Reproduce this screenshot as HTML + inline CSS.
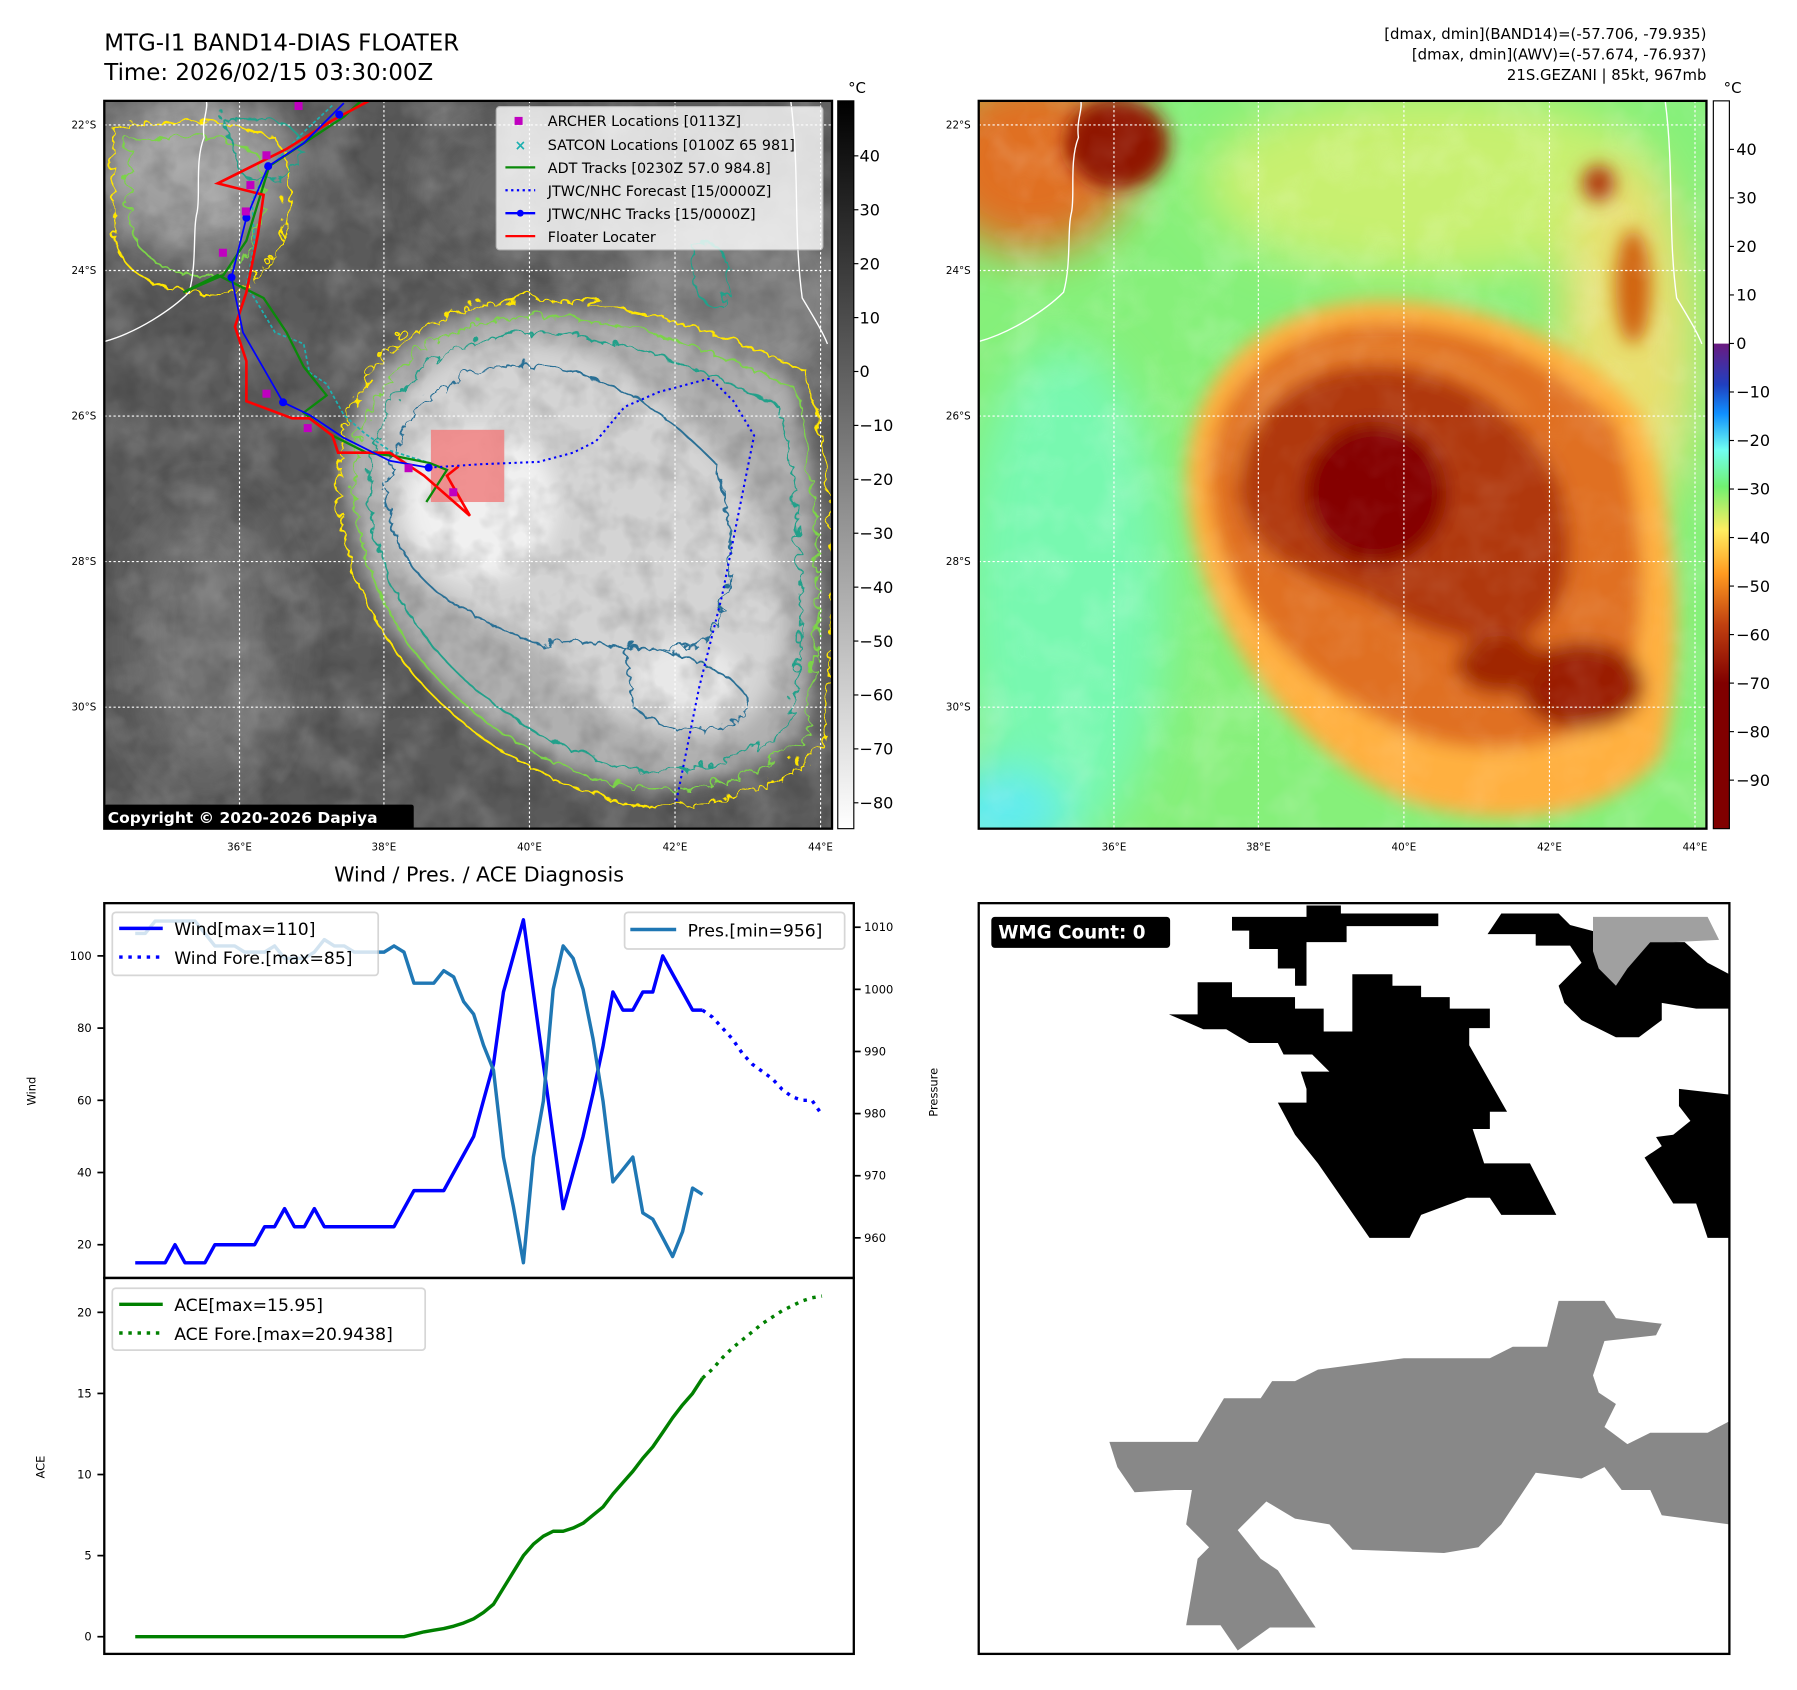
<!DOCTYPE html>
<html><head><meta charset="utf-8">
<style>
html,body{margin:0;padding:0;background:#fff;}
svg{display:block;font-family:"DejaVu Sans","Liberation Sans",sans-serif;}
</style></head>
<body>
<svg id="root" width="1797" height="1690" viewBox="0 0 1568 1474.5" preserveAspectRatio="none" xmlns="http://www.w3.org/2000/svg">
<defs>
  <clipPath id="c1"><rect x="91" y="88" width="635" height="635"/></clipPath>
  <clipPath id="c2"><rect x="854" y="88" width="635" height="635"/></clipPath>
  <filter id="blur8"><feGaussianBlur stdDeviation="8"/></filter>
  <filter id="blur20"><feGaussianBlur stdDeviation="20"/></filter>
  <filter id="tex" x="0" y="0" width="100%" height="100%">
    <feTurbulence type="fractalNoise" baseFrequency="0.025" numOctaves="3" seed="4"/>
    <feColorMatrix type="matrix" values="0 0 0 0 1  0 0 0 0 1  0 0 0 0 1  0 0 0 1.1 -0.45"/>
  </filter>
  <filter id="texd" x="0" y="0" width="100%" height="100%">
    <feTurbulence type="fractalNoise" baseFrequency="0.04" numOctaves="3" seed="9"/>
    <feColorMatrix type="matrix" values="0 0 0 0 0  0 0 0 0 0  0 0 0 0 0  0 0 0 1.2 -0.5"/>
  </filter>
  <filter id="wig"><feTurbulence type="turbulence" baseFrequency="0.06" numOctaves="2" seed="7" result="n"/><feDisplacementMap in="SourceGraphic" in2="n" scale="14"/></filter>
  <linearGradient id="cb1" x1="0" y1="0" x2="0" y2="1"><stop offset="0" stop-color="#000"/><stop offset="1" stop-color="#fff"/></linearGradient>
  <linearGradient id="cb2" x1="0" y1="0" x2="0" y2="1">
    <stop offset="0" stop-color="#fff"/><stop offset="0.333" stop-color="#fff"/>
    <stop offset="0.334" stop-color="#6a1a80"/><stop offset="0.39" stop-color="#2040c0"/>
    <stop offset="0.43" stop-color="#1090ff"/><stop offset="0.48" stop-color="#70fff0"/>
    <stop offset="0.53" stop-color="#70f070"/><stop offset="0.59" stop-color="#ffee60"/>
    <stop offset="0.65" stop-color="#ff9a20"/><stop offset="0.72" stop-color="#c04010"/>
    <stop offset="0.8" stop-color="#800000"/><stop offset="1" stop-color="#800000"/>
  </linearGradient>
</defs>

<!-- ================= MAP 1 ================= -->
<text x="91" y="44" font-size="20">MTG-I1 BAND14-DIAS FLOATER</text>
<text x="91" y="70" font-size="20">Time: 2026/02/15 03:30:00Z</text>
<g clip-path="url(#c1)">
  <rect x="91" y="88" width="635" height="635" fill="#5a5a5a"/>
  <g filter="url(#blur20)">
    <ellipse cx="170" cy="150" rx="90" ry="70" fill="#a0a0a0"/>
    <ellipse cx="640" cy="260" rx="110" ry="90" fill="#808080"/>
    <ellipse cx="180" cy="560" rx="60" ry="120" fill="#747474"/>
    <ellipse cx="470" cy="170" rx="90" ry="60" fill="#6a6a6a"/>
  </g>
  <rect x="91" y="88" width="635" height="635" filter="url(#tex)" opacity="0.35"/>
  <g filter="url(#blur8)">
    <path d="M300,420 C300,330 360,270 450,270 C540,265 620,300 690,330 C720,420 720,560 700,640 C640,690 560,700 500,670 C420,640 310,560 300,420Z" fill="#b0b0b0"/>
    <path d="M335,430 C330,350 380,300 450,300 C540,300 600,360 650,430 C700,520 690,620 630,640 C560,650 500,610 470,560 C430,540 340,520 335,430Z" fill="#d4d4d4"/>
    <ellipse cx="420" cy="440" rx="65" ry="65" fill="#f0f0f0"/>
    <ellipse cx="600" cy="590" rx="45" ry="30" fill="#e8e8e8"/>
  </g>
  <rect x="91" y="88" width="635" height="635" filter="url(#texd)" opacity="0.25"/>
  <g fill="none" stroke-width="1.6" filter="url(#wig)">
    <path d="M292,420 C290,320 360,262 455,258 C545,255 630,290 700,320 C730,420 732,560 712,650 C650,705 560,712 495,682 C410,650 296,560 292,420Z" stroke="#ffe600"/>
    <path d="M305,420 C305,335 365,275 455,272 C545,270 620,305 690,335 C715,430 715,560 700,640 C640,690 560,698 500,670 C420,640 310,555 305,420Z" stroke="#7cd34a"/>
    <path d="M318,425 C318,345 372,290 455,288 C540,286 610,320 675,350 C700,440 700,560 685,630 C630,672 560,680 505,655 C430,625 325,545 318,425Z" stroke="#24a08a"/>
    <path d="M335,430 C335,360 385,315 455,315 C530,318 580,360 620,400 C640,470 640,540 600,560 C540,570 500,545 470,560 C430,540 340,520 335,430Z" stroke="#2a6f95"/>
    <path d="M540,560 C580,560 640,580 650,610 C640,640 580,640 550,615Z" stroke="#2a6f95"/>
    <path d="M95,110 C150,95 200,100 240,120 C260,160 250,230 200,250 C150,260 100,240 95,200Z" stroke="#ffe600"/>
    <path d="M110,120 C150,110 190,115 220,130 C235,170 225,215 190,235 C150,240 115,225 110,190Z" stroke="#7cd34a"/>
    <path d="M190,100 C220,95 250,100 260,120 C255,150 235,160 210,150Z" stroke="#24a08a"/>
    <path d="M600,210 C620,200 640,220 630,260 C620,270 605,260 600,240Z" stroke="#24a08a"/>
  </g>
  <g fill="none" stroke="#fff" stroke-width="1.2">
    <path d="M91,298 C120,290 150,270 165,255 C172,230 168,200 172,185 C175,170 170,140 178,120 C176,105 182,95 180,88"/>
    <path d="M690,88 C698,150 692,200 700,260 C712,280 718,290 722,300"/>
  </g>
  <g stroke="#fff" stroke-width="1" stroke-dasharray="2,2" fill="none">
    <line x1="91" y1="109" x2="726" y2="109"/><line x1="91" y1="236" x2="726" y2="236"/><line x1="91" y1="363" x2="726" y2="363"/><line x1="91" y1="490" x2="726" y2="490"/><line x1="91" y1="617" x2="726" y2="617"/>
    <line x1="209" y1="88" x2="209" y2="723"/><line x1="335" y1="88" x2="335" y2="723"/><line x1="462" y1="88" x2="462" y2="723"/><line x1="589" y1="88" x2="589" y2="723"/><line x1="716" y1="88" x2="716" y2="723"/>
  </g>
  <rect x="376" y="375" width="64" height="63" fill="#f08080" opacity="0.85"/>
  <polyline fill="none" stroke="#1cb0b0" stroke-width="1.5" stroke-dasharray="3,2" points="290,92 262,118 232,150 220,175 222,212 215,250 222,260 240,290 265,300 270,325 285,335 300,362 318,378 340,393 375,404"/>
  <polyline fill="none" stroke="#0a8a0a" stroke-width="2" points="315,88 300,102 265,125 235,145 215,210 195,240 160,255 190,240 210,250 230,260 250,290 265,320 285,345 265,360 290,380 320,395 345,398 375,404 390,410 372,438"/>
  <polyline fill="none" stroke="#f00" stroke-width="2.3" points="322,88 290,105 250,130 190,160 230,170 225,205 215,255 205,285 215,315 215,350 255,365 270,365 290,380 295,395 340,395 370,415 410,450 390,415 400,407"/>
  <g>
    <polyline fill="none" stroke="#00f" stroke-width="1.5" points="300,90 265,125 234,145 215,190 202,242 212,290 247,351 270,362 300,382 340,402 374,408"/>
    <g fill="#00f"><circle cx="296" cy="100" r="3.5"/><circle cx="234" cy="145" r="3.5"/><circle cx="215" cy="190" r="3.5"/><circle cx="202" cy="242" r="3.5"/><circle cx="247" cy="351" r="3.5"/><circle cx="374" cy="408" r="3.5"/></g>
  </g>
  <polyline fill="none" stroke="#00f" stroke-width="1.8" stroke-dasharray="2,3" points="374,408 420,405 470,403 500,395 520,385 545,355 575,342 620,330 640,350 658,380 650,420 630,520 610,600 590,700"/>
  <g fill="#c000c0">
    <rect x="257" y="89" width="7" height="7"/><rect x="229" y="132" width="7" height="7"/><rect x="215" y="158" width="7" height="7"/><rect x="211" y="181" width="7" height="7"/><rect x="191" y="217" width="7" height="7"/><rect x="229" y="340" width="7" height="7"/><rect x="265" y="370" width="7" height="7"/><rect x="353" y="405" width="7" height="7"/><rect x="392" y="426" width="7" height="7"/>
  </g>
  <g>
    <rect x="433" y="93" width="285" height="125" fill="#fff" opacity="0.8" stroke="#ccc" rx="3"/>
    <rect x="449" y="102" width="7" height="7" fill="#c000c0"/>
    <text x="449" y="131" font-size="12" fill="#1cb0b0" font-weight="bold">×</text>
    <line x1="441" y1="146" x2="467" y2="146" stroke="#0a8a0a" stroke-width="2"/>
    <line x1="441" y1="166" x2="467" y2="166" stroke="#00f" stroke-width="2" stroke-dasharray="2,3"/>
    <line x1="441" y1="186" x2="467" y2="186" stroke="#00f" stroke-width="2"/><circle cx="454" cy="186" r="3" fill="#00f"/>
    <line x1="441" y1="206" x2="467" y2="206" stroke="#f00" stroke-width="2"/>
    <g font-size="12.5" fill="#000">
      <text x="478" y="110">ARCHER Locations [0113Z]</text>
      <text x="478" y="131">SATCON Locations [0100Z 65 981]</text>
      <text x="478" y="151">ADT Tracks [0230Z 57.0 984.8]</text>
      <text x="478" y="171">JTWC/NHC Forecast [15/0000Z]</text>
      <text x="478" y="191">JTWC/NHC Tracks [15/0000Z]</text>
      <text x="478" y="211">Floater Locater</text>
    </g>
  </g>
  <rect x="91" y="702" width="270" height="22" fill="#000" rx="2"/>
  <text x="94" y="718" font-size="13.5" font-weight="bold" fill="#fff">Copyright © 2020-2026 Dapiya</text>
</g>
<rect x="91" y="88" width="635" height="635" fill="none" stroke="#000" stroke-width="2"/>
<g font-size="9" text-anchor="end">
  <text x="84" y="112">22°S</text><text x="84" y="239">24°S</text><text x="84" y="366">26°S</text><text x="84" y="493">28°S</text><text x="84" y="620">30°S</text>
</g>
<g font-size="9" text-anchor="middle">
  <text x="209" y="742">36°E</text><text x="335" y="742">38°E</text><text x="462" y="742">40°E</text><text x="589" y="742">42°E</text><text x="716" y="742">44°E</text>
</g>
<rect x="731" y="88" width="14" height="635" fill="url(#cb1)" stroke="#000" stroke-width="1"/>
<text x="740" y="81" font-size="13">°C</text>
<g id="cb1ticks" font-size="14"></g>

<!-- ================= MAP 2 ================= -->
<g font-size="13" text-anchor="end">
  <text x="1489" y="34">[dmax, dmin](BAND14)=(-57.706, -79.935)</text>
  <text x="1489" y="52">[dmax, dmin](AWV)=(-57.674, -76.937)</text>
  <text x="1489" y="70">21S.GEZANI | 85kt, 967mb</text>
</g>
<g clip-path="url(#c2)">
  <rect x="854" y="88" width="635" height="635" fill="#86f07a"/>
  <g filter="url(#blur20)">
    <ellipse cx="930" cy="520" rx="90" ry="220" fill="#78f8b0"/>
    <ellipse cx="870" cy="710" rx="60" ry="40" fill="#60ecf0"/>
    <ellipse cx="1250" cy="160" rx="200" ry="80" fill="#c8f070"/>
    <ellipse cx="1420" cy="300" rx="60" ry="160" fill="#e8e070"/>
    <ellipse cx="900" cy="140" rx="90" ry="80" fill="#e07020"/>
  </g>
  <rect x="854" y="88" width="635" height="635" filter="url(#tex)" opacity="0.15"/>
  <g filter="url(#blur8)">
    <ellipse cx="975" cy="125" rx="45" ry="40" fill="#901800"/>
    <path d="M1035,420 C1035,320 1110,265 1200,262 C1300,260 1380,300 1430,360 C1470,460 1470,580 1450,660 C1400,720 1300,723 1230,700 C1150,670 1040,560 1035,420Z" fill="#ffb040"/>
    <path d="M1055,420 C1055,335 1120,285 1200,282 C1290,280 1360,320 1410,370 C1440,460 1440,560 1410,620 C1360,660 1280,660 1230,640 C1160,610 1060,540 1055,420Z" fill="#e07020"/>
    <path d="M1080,420 C1085,360 1130,320 1200,320 C1270,320 1330,360 1360,420 C1380,490 1370,540 1320,560 C1270,565 1220,540 1190,520 C1130,500 1080,480 1080,420Z" fill="#b03808"/>
    <ellipse cx="1200" cy="430" rx="62" ry="62" fill="#850000"/>
    <ellipse cx="1380" cy="598" rx="55" ry="38" fill="#9a1c00"/>
    <ellipse cx="1310" cy="580" rx="40" ry="25" fill="#a02800"/>
    <ellipse cx="1425" cy="250" rx="15" ry="50" fill="#d06010"/>
    <ellipse cx="1395" cy="160" rx="14" ry="16" fill="#b03808"/>
  </g>
  <rect x="854" y="88" width="635" height="635" filter="url(#tex)" opacity="0.18"/>
  <path d="M1080,420 C1085,340 1140,305 1200,305 C1260,305 1300,330 1330,360" fill="none" stroke="#ffd070" stroke-width="4" opacity="0.6" filter="url(#blur8)"/>
  <g fill="none" stroke="#fff" stroke-width="1.2">
    <path d="M854,298 C883,290 913,270 928,255 C935,230 931,200 935,185 C938,170 933,140 941,120 C939,105 945,95 943,88"/>
    <path d="M1453,88 C1461,150 1455,200 1463,260 C1475,280 1481,290 1485,300"/>
  </g>
  <g stroke="#fff" stroke-width="1" stroke-dasharray="2,2" fill="none">
    <line x1="854" y1="109" x2="1489" y2="109"/><line x1="854" y1="236" x2="1489" y2="236"/><line x1="854" y1="363" x2="1489" y2="363"/><line x1="854" y1="490" x2="1489" y2="490"/><line x1="854" y1="617" x2="1489" y2="617"/>
    <line x1="972" y1="88" x2="972" y2="723"/><line x1="1098" y1="88" x2="1098" y2="723"/><line x1="1225" y1="88" x2="1225" y2="723"/><line x1="1352" y1="88" x2="1352" y2="723"/><line x1="1479" y1="88" x2="1479" y2="723"/>
  </g>
</g>
<rect x="854" y="88" width="635" height="635" fill="none" stroke="#000" stroke-width="2"/>
<g font-size="9" text-anchor="end">
  <text x="847" y="112">22°S</text><text x="847" y="239">24°S</text><text x="847" y="366">26°S</text><text x="847" y="493">28°S</text><text x="847" y="620">30°S</text>
</g>
<g font-size="9" text-anchor="middle">
  <text x="972" y="742">36°E</text><text x="1098" y="742">38°E</text><text x="1225" y="742">40°E</text><text x="1352" y="742">42°E</text><text x="1479" y="742">44°E</text>
</g>
<rect x="1495" y="88" width="14" height="635" fill="url(#cb2)" stroke="#000" stroke-width="1"/>
<text x="1504" y="81" font-size="13">°C</text>
<g id="cb2ticks" font-size="14"></g>

<!-- ================= CHARTS ================= -->
<text x="418" y="769" font-size="18" text-anchor="middle">Wind / Pres. / ACE Diagnosis</text>
<rect x="91" y="788" width="654" height="655" fill="#fff"/>
<g id="plots"></g>
<rect x="91" y="788" width="654" height="327" fill="none" stroke="#000" stroke-width="2"/>
<rect x="91" y="1115" width="654" height="328" fill="none" stroke="#000" stroke-width="2"/>
<text transform="translate(31,952) rotate(-90)" font-size="10" text-anchor="middle">Wind</text>
<text transform="translate(818,953) rotate(-90)" font-size="10" text-anchor="middle">Pressure</text>
<text transform="translate(39,1280) rotate(-90)" font-size="10" text-anchor="middle">ACE</text>
<g id="legends">
  <g>
    <rect x="98" y="796" width="232" height="55" fill="#fff" opacity="0.8" stroke="#ccc" stroke-width="1.5" rx="3"/>
    <line x1="104" y1="810" x2="142" y2="810" stroke="#00f" stroke-width="3"/>
    <line x1="104" y1="835" x2="142" y2="835" stroke="#00f" stroke-width="3" stroke-dasharray="3,5"/>
    <text x="152" y="816" font-size="15">Wind[max=110]</text>
    <text x="152" y="841" font-size="15">Wind Fore.[max=85]</text>
  </g>
  <g>
    <rect x="545" y="796" width="192" height="32" fill="#fff" opacity="0.8" stroke="#ccc" stroke-width="1.5" rx="3"/>
    <line x1="550" y1="811" x2="590" y2="811" stroke="#1f77b4" stroke-width="3"/>
    <text x="600" y="817" font-size="15">Pres.[min=956]</text>
  </g>
  <g>
    <rect x="98" y="1124" width="273" height="54" fill="#fff" opacity="0.8" stroke="#ccc" stroke-width="1.5" rx="3"/>
    <line x1="104" y1="1138" x2="142" y2="1138" stroke="#008000" stroke-width="3"/>
    <line x1="104" y1="1163" x2="142" y2="1163" stroke="#008000" stroke-width="3" stroke-dasharray="3,5"/>
    <text x="152" y="1144" font-size="15">ACE[max=15.95]</text>
    <text x="152" y="1169" font-size="15">ACE Fore.[max=20.9438]</text>
  </g>
</g>

<!-- ================= WMG PANEL ================= -->
<g>
  <rect x="854" y="788" width="655" height="655" fill="#fff"/>
  <g fill="#000">
    <polygon points="1075,800 1140,800 1140,790 1170,790 1170,797 1255,797 1255,808 1175,808 1175,822 1140,822 1140,860 1130,860 1130,845 1115,845 1115,828 1090,828 1090,812 1075,812"/>
    <polygon points="1045,857 1075,857 1075,870 1130,870 1130,880 1155,880 1155,900 1180,900 1180,850 1215,850 1215,860 1240,860 1240,870 1265,870 1265,880 1300,880 1300,897 1282,897 1282,912 1315,970 1300,970 1300,985 1285,985 1295,1015 1335,1015 1358,1060 1310,1060 1300,1045 1280,1045 1240,1060 1230,1080 1195,1080 1150,1015 1130,990 1115,962 1140,962 1140,950 1135,935 1160,935 1145,920 1120,920 1115,910 1090,910 1070,898 1050,898 1020,885 1045,885"/>
    <polygon points="1298,815 1310,797 1360,797 1370,807 1400,815 1410,832 1440,822 1470,822 1490,840 1509,850 1509,880 1480,880 1450,875 1450,890 1430,905 1410,905 1380,890 1365,875 1360,860 1380,840 1370,825 1340,825 1340,815"/>
    <polygon points="1465,950 1509,955 1509,1080 1490,1080 1480,1050 1460,1050 1435,1010 1450,1000 1445,992 1460,990 1475,978 1465,965"/>
  </g>
  <polygon fill="#a0a0a0" points="1390,800 1490,800 1500,820 1460,822 1440,822 1420,845 1410,860 1395,845 1390,830"/>
  <polygon fill="#888" points="968,1258 1045,1258 1068,1220 1100,1220 1110,1205 1130,1205 1150,1195 1225,1185 1300,1185 1320,1175 1350,1175 1360,1135 1400,1135 1410,1150 1450,1155 1445,1165 1400,1170 1390,1200 1395,1215 1410,1225 1400,1245 1420,1260 1440,1250 1490,1250 1509,1240 1509,1330 1450,1322 1440,1300 1415,1300 1400,1280 1380,1290 1340,1285 1310,1330 1290,1350 1260,1355 1180,1352 1160,1330 1130,1325 1105,1310 1080,1335 1100,1360 1115,1370 1148,1420 1108,1420 1080,1440 1065,1418 1035,1418 1045,1360 1055,1350 1035,1330 1040,1300 1025,1300 990,1302 975,1280"/>
  <rect x="865" y="800" width="156" height="27" rx="3" fill="#000"/>
  <text x="871" y="819" font-size="16" font-weight="bold" fill="#fff">WMG Count: 0</text>
  <rect x="854" y="788" width="655" height="655" fill="none" stroke="#000" stroke-width="2"/>
</g>

<script>
// ---- chart data ----
const windIdx = [0,1,2,3,4,5,6,7,8,9,10,11,12,13,14,15,16,17,18,19,20,21,22,23,24,25,26,27,28,29,30,31,32,33,34,35,36,37,38,39,40,41,42,43,44,45,46,47,48,49,50,51,52,53,54,55,56,57];
const windVals = [15,15,15,15,20,15,15,15,20,20,20,20,20,25,25,30,25,25,30,25,25,25,25,25,25,25,25,30,35,35,35,35,40,45,50,60,70,90,100,110,90,70,50,30,40,50,62,75,90,85,85,90,90,100,95,90,85,85];
const foreIdx = [57,58,59,60,61,62,63,64,65,66,67,68,69];
const windFore = [85,83,80,77,73,70,68,66,63,61,60,60,56];
const presVals = [1009,1009,1011,1011,1011,1011,1011,1009,1007,1007,1007,1006,1006,1006,1007,1005,1005,1005,1006,1008,1007,1007,1006,1006,1006,1006,1007,1006,1001,1001,1001,1003,1002,998,996,991,987,973,965,956,973,982,1000,1007,1005,1000,992,982,969,971,973,964,963,960,957,961,968,967];
const aceVals = [0,0,0,0,0,0,0,0,0,0,0,0,0,0,0,0,0,0,0,0,0,0,0,0,0,0,0,0,0.15,0.3,0.4,0.5,0.65,0.85,1.1,1.5,2,3,4,5,5.7,6.2,6.5,6.5,6.7,7,7.5,8,8.8,9.5,10.2,11,11.7,12.6,13.5,14.3,15,15.95];
const aceFore = [15.95,16.5,17.2,17.8,18.3,18.8,19.3,19.7,20.1,20.4,20.7,20.9,21.0];
const windTicks = [20,40,60,80,100];
const presTicks = [960,970,980,990,1000,1010];
const aceTicks = [0,5,10,15,20];
const cb1Ticks = [40,30,20,10,0,-10,-20,-30,-40,-50,-60,-70,-80];
const cb2Ticks = [40,30,20,10,0,-10,-20,-30,-40,-50,-60,-70,-80,-90];

// ---- axis functions ----
const xS = i => 118 + i * (613 - 118) / 57;
const yWind = v => 1086 - (v - 20) * (1086 - 834) / 80;
const yPres = v => 1080 - (v - 960) * (1080 - 809) / 50;
const yAce = v => 1428 - v * (1428 - 1145) / 20;
const yCb1 = v => 88 + (50.2 - v) * 635 / 135;
const yCb2 = v => 88 + (50 - v) * 635 / 150;

const NS = 'http://www.w3.org/2000/svg';
function mk(tag, attrs, parent) {
  const el = document.createElementNS(NS, tag);
  for (const k in attrs) el.setAttribute(k, attrs[k]);
  parent.appendChild(el);
  return el;
}
function pts(xs, ys, fy) { return xs.map((x, k) => xS(x).toFixed(1) + ',' + fy(ys[k]).toFixed(1)).join(' '); }

const plots = document.getElementById('plots');
let el;
el = mk('polyline', {points: pts(windIdx, windVals, yWind), fill: 'none', stroke: '#0000ff', 'stroke-width': 3, 'stroke-linejoin': 'round'}, plots);


el = mk('polyline', {points: pts(foreIdx, windFore, yWind), fill: 'none', stroke: '#0000ff', 'stroke-width': 3, 'stroke-dasharray': '3,5'}, plots);


el = mk('polyline', {points: pts(windIdx, presVals, yPres), fill: 'none', stroke: '#1f77b4', 'stroke-width': 3, 'stroke-linejoin': 'round'}, plots);


el = mk('polyline', {points: pts(windIdx, aceVals, yAce), fill: 'none', stroke: '#008000', 'stroke-width': 3, 'stroke-linejoin': 'round'}, plots);


el = mk('polyline', {points: pts(foreIdx, aceFore, yAce), fill: 'none', stroke: '#008000', 'stroke-width': 3, 'stroke-dasharray': '3,5'}, plots);



windTicks.forEach(t => {
  const y = yWind(t);
  mk('line', {x1: 85, x2: 91, y1: y, y2: y, stroke: '#000', 'stroke-width': 1.5}, plots);
  el = mk('text', {x: 80, y: y + 3.5, 'font-size': 10, 'text-anchor': 'end'}, plots);
  el.textContent = t;
  
  
});
presTicks.forEach(t => {
  const y = yPres(t);
  mk('line', {x1: 745, x2: 751, y1: y, y2: y, stroke: '#000', 'stroke-width': 1.5}, plots);
  el = mk('text', {x: 754, y: y + 3.5, 'font-size': 10}, plots);
  el.textContent = t;
  
  
});
aceTicks.forEach(t => {
  const y = yAce(t);
  mk('line', {x1: 85, x2: 91, y1: y, y2: y, stroke: '#000', 'stroke-width': 1.5}, plots);
  el = mk('text', {x: 80, y: y + 3.5, 'font-size': 10, 'text-anchor': 'end'}, plots);
  el.textContent = t;
  
  
});
const fmt = t => t < 0 ? '\u2212' + (-t) : String(t);
const g1 = document.getElementById('cb1ticks');
cb1Ticks.forEach(t => {
  const y = yCb1(t);
  mk('line', {x1: 745, x2: 749, y1: y, y2: y, stroke: '#000'}, g1);
  el = mk('text', {x: 750, y: y + 5}, g1);
  el.textContent = fmt(t);
  
  
});
const g2 = document.getElementById('cb2ticks');
cb2Ticks.forEach(t => {
  const y = yCb2(t);
  mk('line', {x1: 1509, x2: 1513, y1: y, y2: y, stroke: '#000'}, g2);
  el = mk('text', {x: 1515, y: y + 5}, g2);
  el.textContent = fmt(t);
  
  
});
</script>
</svg>
</body></html>
